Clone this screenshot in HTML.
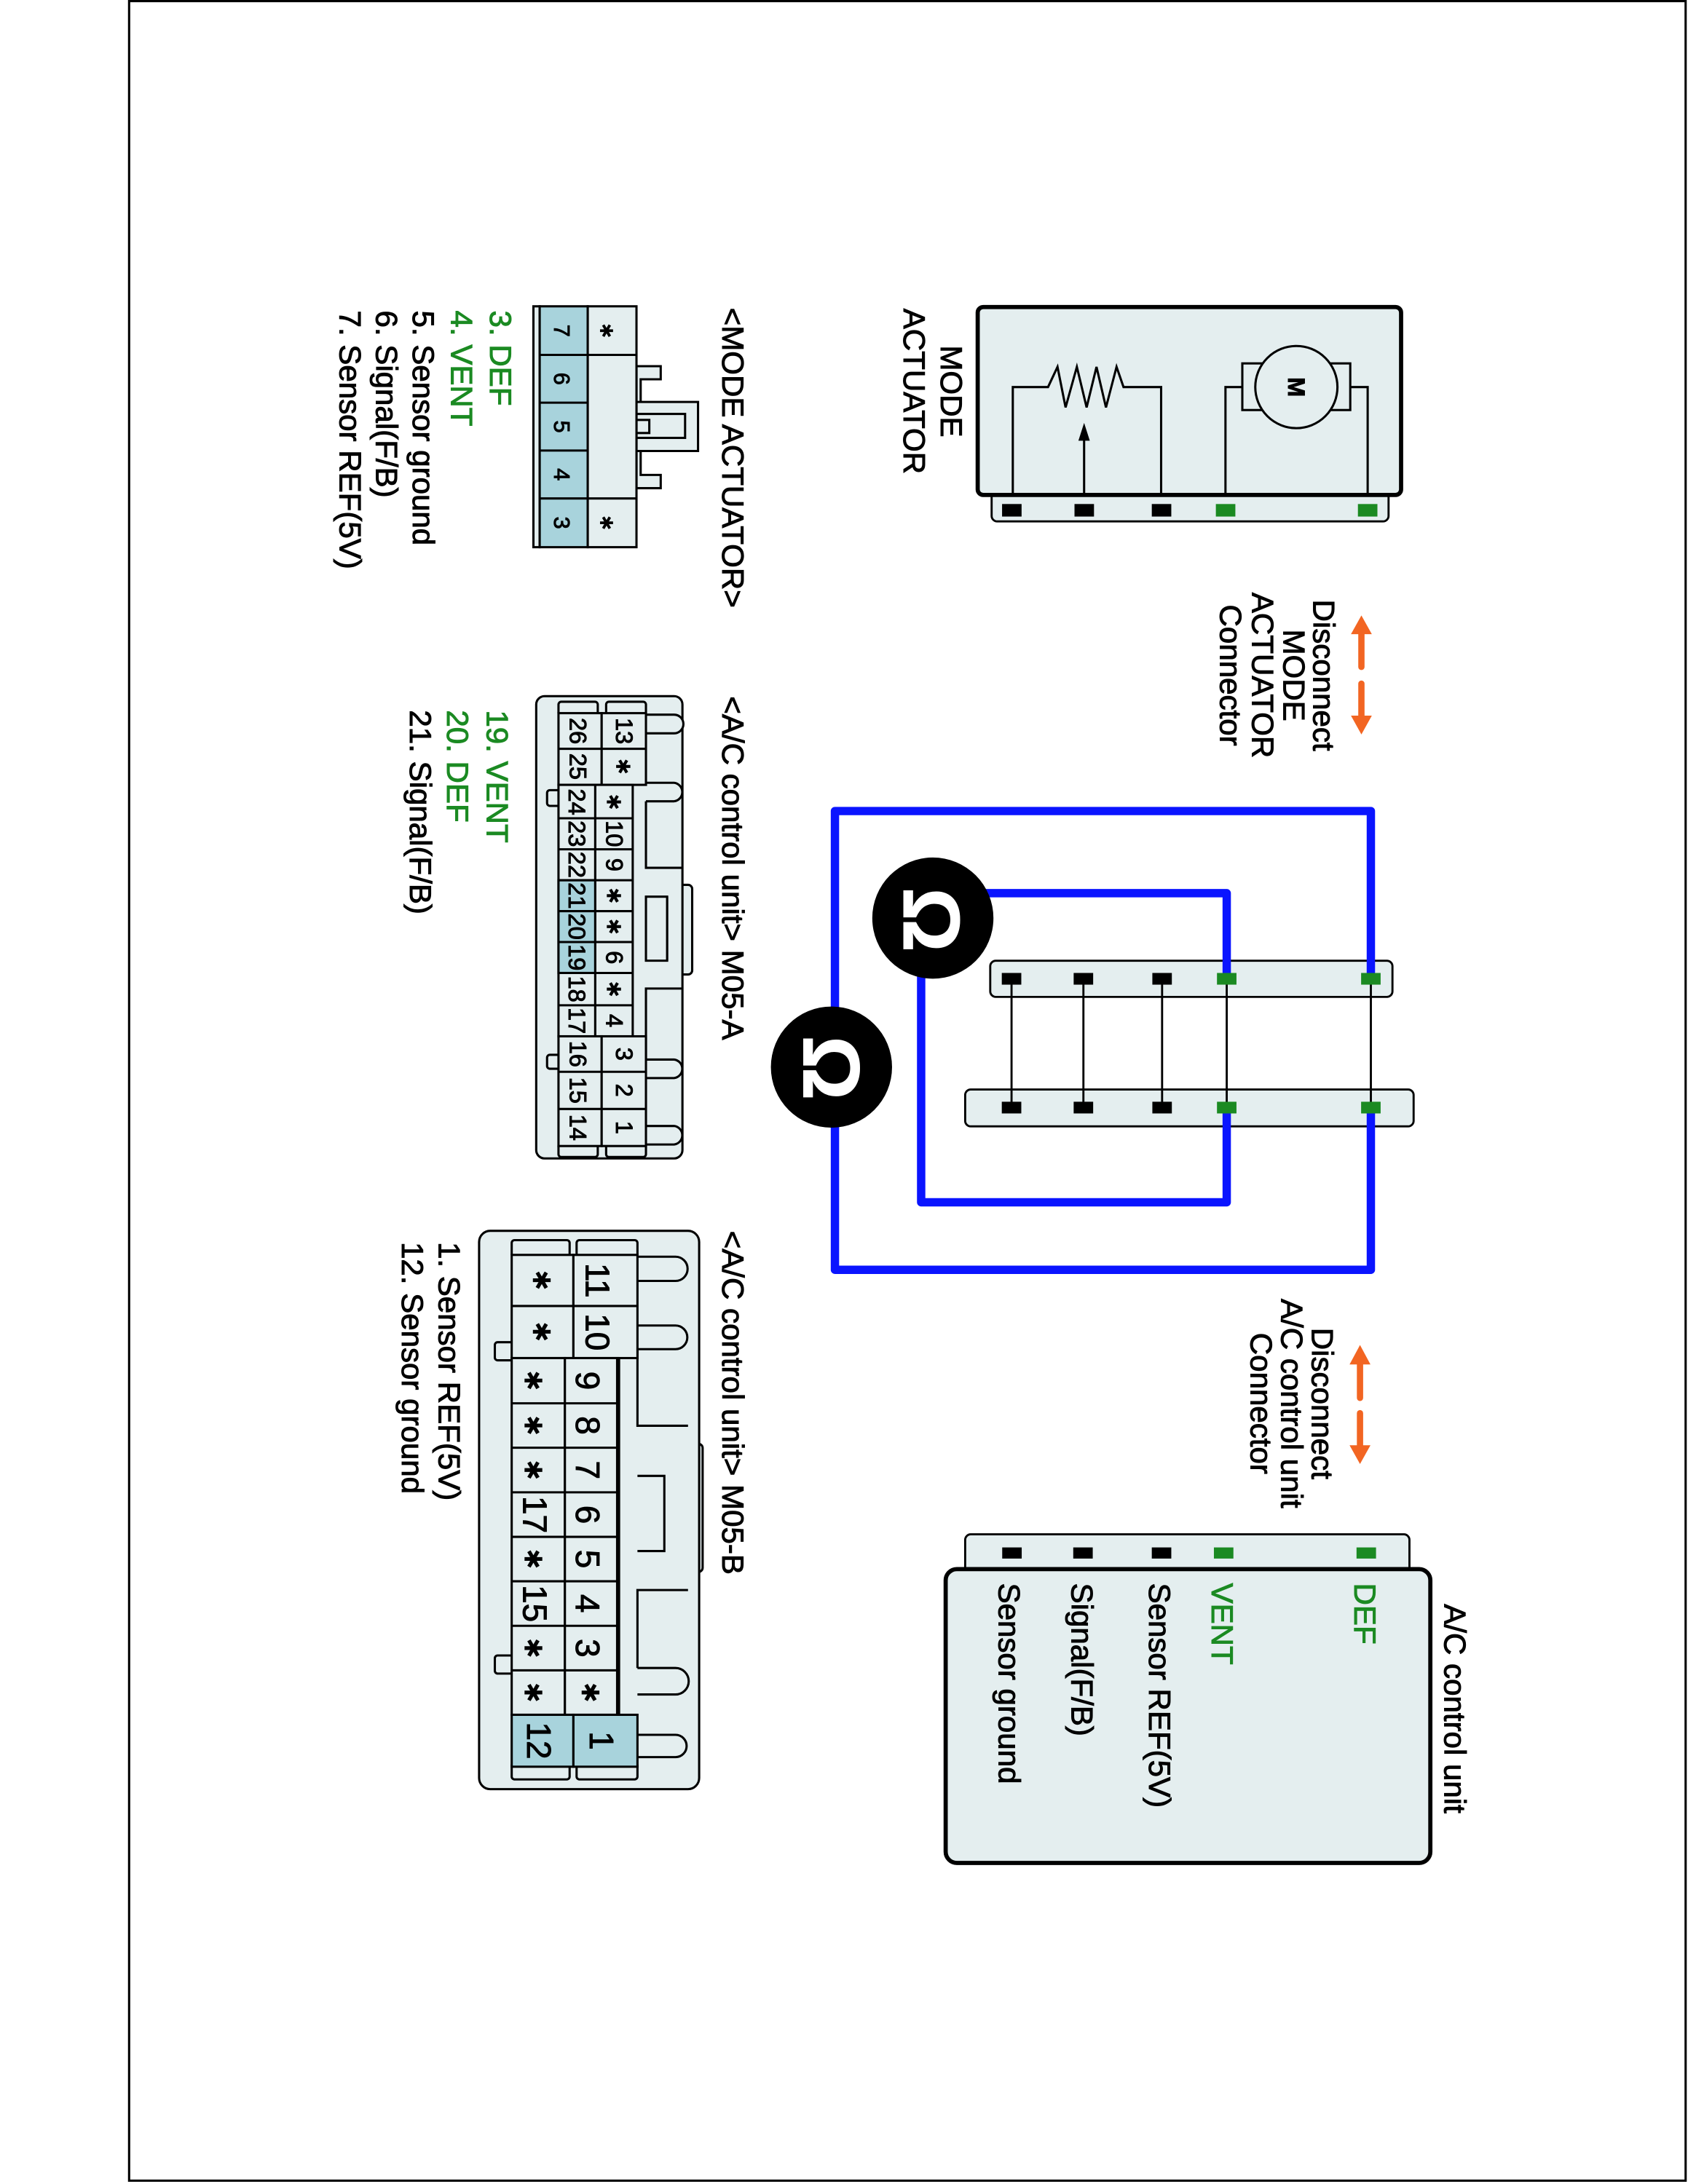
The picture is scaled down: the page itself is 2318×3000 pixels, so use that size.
<!DOCTYPE html>
<html><head><meta charset="utf-8"><style>
html,body{margin:0;padding:0;background:#fff;}
svg{display:block;}
text{font-family:"Liberation Sans",Arial,sans-serif;stroke:#000;stroke-width:0.5;}
text.g{fill:#1b8a22;stroke:#1b8a22;}
text.w{fill:#fff;stroke:#fff;}
</style></head><body>
<svg width="2318" height="3000" viewBox="0 0 1212 1568.6" xmlns="http://www.w3.org/2000/svg">
<defs>
<symbol id="st" viewBox="-10 -10 20 20" overflow="visible">
<g stroke="#000" stroke-width="3.6" stroke-linecap="butt">
<line x1="-8.5" y1="0" x2="8.5" y2="0"/><line x1="-4.3" y1="-7.4" x2="4.3" y2="7.4"/><line x1="-4.3" y1="7.4" x2="4.3" y2="-7.4"/>
</g></symbol>
</defs>
<rect x="0" y="0" width="1212" height="1568.6" fill="#fff"/>
<rect x="92.7" y="0.8" width="1117.6" height="1565.4" fill="none" stroke="#000" stroke-width="1.6"/>

<!-- MODE ACTUATOR component -->
<rect x="712" y="346" width="285" height="28.5" rx="4" fill="#e4eeef" stroke="#000" stroke-width="1.5"/>
<rect x="702" y="220.5" width="304" height="135" rx="4" fill="#e4eeef" stroke="#000" stroke-width="3"/>
<rect x="719.5" y="362" width="14" height="9" fill="#000"/>
<rect x="771.5" y="362" width="14" height="9" fill="#000"/>
<rect x="827" y="362" width="14" height="9" fill="#000"/>
<rect x="873" y="362" width="14" height="9" fill="#1b8a22"/>
<rect x="975" y="362" width="14" height="9" fill="#1b8a22"/>
<g fill="none" stroke="#000" stroke-width="1.6">
<polyline points="727.2,355 727.2,278 752.5,278 759.3,263.5 765.1,292.6 773.2,263.5 780.2,292.6 787.3,263.5 794.1,292.6 801.7,263.5 806.7,278 833.7,278 833.7,355"/>
<line x1="778.4" y1="355" x2="778.4" y2="314"/>
<polyline points="879.9,355 879.9,278 892,278"/>
<polyline points="969.5,278 982,278 982,355"/>
<rect x="892" y="261" width="77.5" height="33.5" fill="#e4eeef"/>
<circle cx="930.8" cy="278" r="29.5" fill="#e4eeef"/>
</g>
<polygon points="778.4,303.7 774.3,316.5 782.5,316.5" fill="#000"/>
<text transform="translate(930.8,278) rotate(90)" text-anchor="middle" dominant-baseline="central" font-size="17" font-weight="bold">M</text>
<g font-size="22">
<text transform="translate(675.5,281) rotate(90)" text-anchor="middle">MODE</text>
<text transform="translate(649,281) rotate(90)" text-anchor="middle">ACTUATOR</text>
<text transform="translate(943,485) rotate(90)" text-anchor="middle">Disconnect</text>
<text transform="translate(921.5,485) rotate(90)" text-anchor="middle">MODE</text>
<text transform="translate(899,485) rotate(90)" text-anchor="middle">ACTUATOR</text>
<text transform="translate(876,485) rotate(90)" text-anchor="middle">Connector</text>
<text transform="translate(942,1008) rotate(90)" text-anchor="middle">Disconnect</text>
<text transform="translate(920,1008) rotate(90)" text-anchor="middle">A/C control unit</text>
<text transform="translate(898,1008) rotate(90)" text-anchor="middle">Connector</text>
</g>
<!-- orange arrows -->
<g fill="#f26522" stroke="#f26522">
<line x1="977.5" y1="452" x2="977.5" y2="479" stroke-width="4.5" stroke-linecap="round"/>
<polygon points="977.5,442 970,455.5 985,455.5" stroke="none"/>
<line x1="977.5" y1="491" x2="977.5" y2="517" stroke-width="4.5" stroke-linecap="round"/>
<polygon points="977.5,527.5 970,514 985,514" stroke="none"/>
<line x1="976.5" y1="978" x2="976.5" y2="1004" stroke-width="4.5" stroke-linecap="round"/>
<polygon points="976.5,966 969,980 984,980" stroke="none"/>
<line x1="976.5" y1="1015" x2="976.5" y2="1041" stroke-width="4.5" stroke-linecap="round"/>
<polygon points="976.5,1051.5 969,1038 984,1038" stroke="none"/>
</g>

<!-- center connectors -->
<rect x="711" y="690" width="288.8" height="26" rx="4" fill="#e4eeef" stroke="#000" stroke-width="1.5"/>
<rect x="693" y="782.5" width="322" height="26.5" rx="4" fill="#e4eeef" stroke="#000" stroke-width="1.5"/>
<g stroke="#000" stroke-width="1.5">
<line x1="726.3" y1="703" x2="726.3" y2="796"/>
<line x1="777.9" y1="703" x2="777.9" y2="796"/>
<line x1="834.4" y1="703" x2="834.4" y2="796"/>
<line x1="880.8" y1="703" x2="880.8" y2="796"/>
<line x1="984.3" y1="703" x2="984.3" y2="796"/>
</g>
<g fill="none" stroke="#0a14ff" stroke-width="6" stroke-linejoin="round" stroke-linecap="round">
<polyline points="984.3,703 984.3,582.5 599.5,582.5 599.5,912 984.3,912 984.3,796"/>
<polyline points="880.8,703 880.8,641.5 690,641.5"/>
<polyline points="661.4,690 661.4,863.5 880.8,863.5 880.8,796"/>
</g>
<g>
<rect x="719.3" y="698.8" width="14" height="8.4" fill="#000"/>
<rect x="770.9" y="698.8" width="14" height="8.4" fill="#000"/>
<rect x="827.4" y="698.8" width="14" height="8.4" fill="#000"/>
<rect x="873.8" y="698.8" width="14" height="8.4" fill="#1b8a22"/>
<rect x="977.3" y="698.8" width="14" height="8.4" fill="#1b8a22"/>
<rect x="719.3" y="791.3" width="14" height="8.4" fill="#000"/>
<rect x="770.9" y="791.3" width="14" height="8.4" fill="#000"/>
<rect x="827.4" y="791.3" width="14" height="8.4" fill="#000"/>
<rect x="873.8" y="791.3" width="14" height="8.4" fill="#1b8a22"/>
<rect x="977.3" y="791.3" width="14" height="8.4" fill="#1b8a22"/>
</g>
<circle cx="669.8" cy="659.4" r="43.5" fill="#000"/>
<circle cx="597" cy="766.4" r="43.5" fill="#000"/>
<text class="w" transform="translate(649,660.6) rotate(90)" text-anchor="middle" font-size="58" font-weight="bold">Ω</text>
<text class="w" transform="translate(577,767) rotate(90)" text-anchor="middle" font-size="58" font-weight="bold">Ω</text>

<!-- A/C control unit box -->
<rect x="693" y="1102" width="319" height="30" rx="4" fill="#e4eeef" stroke="#000" stroke-width="1.5"/>
<rect x="679" y="1127" width="348" height="211" rx="8" fill="#e4eeef" stroke="#000" stroke-width="3"/>
<rect x="719.6" y="1111.4" width="14" height="8" fill="#000"/>
<rect x="770.6" y="1111.4" width="14" height="8" fill="#000"/>
<rect x="827" y="1111.4" width="14" height="8" fill="#000"/>
<rect x="871.6" y="1111.4" width="14" height="8" fill="#1b8a22"/>
<rect x="974" y="1111.4" width="14" height="8" fill="#1b8a22"/>
<g font-size="22">
<text class="g" transform="translate(972.5,1137) rotate(90)">DEF</text>
<text class="g" transform="translate(870,1137) rotate(90)">VENT</text>
<text transform="translate(825,1137) rotate(90)">Sensor REF(5V)</text>
<text transform="translate(769.5,1137) rotate(90)">Signal(F/B)</text>
<text transform="translate(717,1137) rotate(90)">Sensor ground</text>
<text transform="translate(1037,1152) rotate(90)">A/C control unit</text>
</g>

<!-- MODE ACTUATOR connector -->
<g stroke="#000" stroke-width="1.6">
<path d="M457,263 H474.4 V272.4 H460 V341.1 H474.4 V350.6 H457 Z" fill="#e4eeef"/>
<path d="M457,288.7 H501.2 V323.9 H457 Z" fill="#e4eeef"/>
<rect x="457" y="297.3" width="34.9" height="17.2" fill="#e4eeef"/>
<rect x="457" y="301.6" width="9.2" height="9.4" fill="#e4eeef"/>
<rect x="383" y="220" width="4.5" height="173" fill="#e4eeef"/>
<rect x="387.5" y="220" width="34.5" height="173" fill="#a8d3dc"/>
<rect x="422" y="220" width="35" height="173" fill="#e4eeef"/>
<line x1="387.5" y1="254.9" x2="457" y2="254.9"/>
<line x1="387.5" y1="289.2" x2="422" y2="289.2"/>
<line x1="387.5" y1="323.6" x2="422" y2="323.6"/>
<line x1="387.5" y1="358" x2="457" y2="358"/>
</g>
<g font-size="16" text-anchor="middle" dominant-baseline="central">
<text transform="translate(403,237.5) rotate(90)">7</text>
<text transform="translate(403,272) rotate(90)">6</text>
<text transform="translate(403,306.4) rotate(90)">5</text>
<text transform="translate(403,340.8) rotate(90)">4</text>
<text transform="translate(403,375.5) rotate(90)">3</text>
</g>
<use href="#st" x="430" y="232" width="11" height="11"/>
<use href="#st" x="430" y="370" width="11" height="11"/>
<g font-size="22">
<text transform="translate(518.6,221) rotate(90)">&lt;MODE ACTUATOR&gt;</text>
<text class="g" transform="translate(352,223) rotate(90)">3. DEF</text>
<text class="g" transform="translate(324,223) rotate(90)">4. VENT</text>
<text transform="translate(296.5,223) rotate(90)">5. Sensor ground</text>
<text transform="translate(270,223) rotate(90)">6. Signal(F/B)</text>
<text transform="translate(244,223) rotate(90)">7. Sensor REF(5V)</text>
</g>

<!-- M05-A connector -->
<g stroke="#000" stroke-width="1.6" fill="#e4eeef">
<rect x="486" y="635.5" width="11" height="64.4" rx="3"/>
<rect x="385" y="500" width="105" height="332" rx="6"/>
<path d="M463.8,513.3 H484 A6.7,6.7 0 0 1 484,526.7 H463.8"/>
<path d="M463.8,562.2 H484 A6.7,6.7 0 0 1 484,575.5 H463.8"/>
<path d="M463.8,761 H484 A6.7,6.7 0 0 1 484,774.3 H463.8"/>
<path d="M463.8,808.7 H484 A6.7,6.7 0 0 1 484,822 H463.8"/>
<path d="M463.8,575.5 V623.3 H489.8 M479,644 V690 M489.8,710 H463.8 V761" fill="none"/>
<path d="M463.8,644 H479 V690 H463.8 Z"/>
<rect x="392.8" y="567.5" width="10" height="11.3" rx="2"/>
<rect x="392.8" y="757.6" width="10" height="10" rx="2"/>
<rect x="401" y="504" width="28.2" height="10" rx="2"/>
<rect x="435.2" y="504" width="28.6" height="10" rx="2"/>
<rect x="401" y="821" width="28.2" height="10" rx="2"/>
<rect x="435.2" y="821" width="28.6" height="10" rx="2"/>
<rect x="401" y="512.2" width="31" height="51.5"/>
<rect x="432" y="512.2" width="31.8" height="51.5"/>
<line x1="401" y1="537.8" x2="463.8" y2="537.8"/>
<rect x="401" y="563.7" width="26.4" height="180.6"/>
<rect x="401" y="632.2" width="26.4" height="66.6" fill="#a8d3dc"/>
<rect x="427.4" y="563.7" width="26.9" height="180.6"/>
<path d="M401,587.7 H454.3 M401,610 H454.3 M401,632.2 H454.3 M401,654.4 H454.3 M401,676.6 H454.3 M401,698.8 H454.3 M401,722 H454.3" fill="none"/>
<rect x="401" y="744.3" width="31" height="78.8"/>
<rect x="432" y="744.3" width="31.8" height="78.8"/>
<path d="M401,769.8 H463.8 M401,796.5 H463.8" fill="none"/>
</g>
<g font-size="17" text-anchor="middle" dominant-baseline="central">
<text transform="translate(415,525) rotate(90)">26</text>
<text transform="translate(415,550.5) rotate(90)">25</text>
<text transform="translate(414,576) rotate(90)">24</text>
<text transform="translate(414,598.8) rotate(90)">23</text>
<text transform="translate(414,621.1) rotate(90)">22</text>
<text transform="translate(414,643.3) rotate(90)">21</text>
<text transform="translate(414,665.5) rotate(90)">20</text>
<text transform="translate(414,687.7) rotate(90)">19</text>
<text transform="translate(414,710.4) rotate(90)">18</text>
<text transform="translate(414,733.1) rotate(90)">17</text>
<text transform="translate(415,757) rotate(90)">16</text>
<text transform="translate(415,783.1) rotate(90)">15</text>
<text transform="translate(415,809.8) rotate(90)">14</text>
<text transform="translate(448,525) rotate(90)">13</text>
<text transform="translate(441,598.8) rotate(90)">10</text>
<text transform="translate(441,621.1) rotate(90)">9</text>
<text transform="translate(441,687.7) rotate(90)">6</text>
<text transform="translate(441,733.1) rotate(90)">4</text>
<text transform="translate(448,757) rotate(90)">3</text>
<text transform="translate(448,783.1) rotate(90)">2</text>
<text transform="translate(448,809.8) rotate(90)">1</text>
</g>
<use href="#st" x="441.5" y="544.5" width="12" height="12"/>
<use href="#st" x="434.8" y="570" width="12" height="12"/>
<use href="#st" x="434.8" y="637.3" width="12" height="12"/>
<use href="#st" x="434.8" y="659.5" width="12" height="12"/>
<use href="#st" x="434.8" y="704.4" width="12" height="12"/>
<g font-size="22">
<text transform="translate(518.6,500) rotate(90)">&lt;A/C control unit&gt; M05-A</text>
<text class="g" transform="translate(349.5,510) rotate(90)">19. VENT</text>
<text class="g" transform="translate(321,510) rotate(90)">20. DEF</text>
<text transform="translate(294.5,510) rotate(90)">21. Signal(F/B)</text>
</g>

<!-- M05-B connector -->
<g stroke="#000" stroke-width="1.6" fill="#e4eeef">
<rect x="493" y="1037" width="11.5" height="92" rx="3"/>
<rect x="344" y="884" width="158" height="401" rx="8"/>
<path d="M457.7,902.6 H485 A8.7,8.7 0 0 1 485,920 H457.7"/>
<path d="M457.7,952 H485 A8.5,8.5 0 0 1 485,969 H457.7"/>
<path d="M457.7,1198 H485 A9.5,9.5 0 0 1 485,1217 H457.7"/>
<path d="M457.7,1246 H485 A8,8 0 0 1 485,1262 H457.7"/>
<path d="M457.7,969 V1024 H494 M457.7,1060 H477 V1114 H457.7 M494,1142 H457.7 V1198" fill="none"/>
<rect x="355.3" y="964" width="13" height="13" rx="2"/>
<rect x="355.3" y="1189" width="13" height="13" rx="2"/>
<rect x="367.4" y="890.7" width="41.6" height="12" rx="2"/>
<rect x="414" y="890.7" width="43.7" height="12" rx="2"/>
<rect x="367.4" y="1266" width="41.6" height="12" rx="2"/>
<rect x="414" y="1266" width="43.7" height="12" rx="2"/>
<rect x="367.4" y="901.3" width="44.3" height="74.1"/>
<rect x="411.7" y="901.3" width="46" height="74.1"/>
<line x1="367.4" y1="938" x2="457.7" y2="938"/>
<rect x="367.4" y="975.4" width="38.2" height="256.2"/>
<rect x="405.6" y="975.4" width="38.2" height="256.2"/>
<line x1="443.8" y1="975.4" x2="443.8" y2="1231.6" stroke-width="3"/>
<path d="M367.4,1007.9 H443.8 M367.4,1039.8 H443.8 M367.4,1071.8 H443.8 M367.4,1103.8 H443.8 M367.4,1135.7 H443.8 M367.4,1167.7 H443.8 M367.4,1199.7 H443.8" fill="none"/>
<rect x="367.4" y="1231.6" width="44.3" height="37.3" fill="#a8d3dc"/>
<rect x="411.7" y="1231.6" width="46" height="37.3" fill="#a8d3dc"/>
</g>
<g font-size="24" text-anchor="middle" dominant-baseline="central">
<text transform="translate(429,919.6) rotate(90)">11</text>
<text transform="translate(429,956.7) rotate(90)">10</text>
<text transform="translate(422,991.6) rotate(90)">9</text>
<text transform="translate(422,1023.8) rotate(90)">8</text>
<text transform="translate(422,1055.8) rotate(90)">7</text>
<text transform="translate(422,1087.8) rotate(90)">6</text>
<text transform="translate(422,1119.7) rotate(90)">5</text>
<text transform="translate(422,1151.7) rotate(90)">4</text>
<text transform="translate(422,1183.7) rotate(90)">3</text>
<text transform="translate(384,1087.8) rotate(90)">17</text>
<text transform="translate(384,1151.7) rotate(90)">15</text>
<text transform="translate(387,1250.2) rotate(90)">12</text>
<text transform="translate(432,1250.2) rotate(90)">1</text>
</g>
<use href="#st" x="381.5" y="912" width="15" height="15"/>
<use href="#st" x="381.5" y="949" width="15" height="15"/>
<use href="#st" x="375.5" y="984" width="15" height="15"/>
<use href="#st" x="375.5" y="1016.3" width="15" height="15"/>
<use href="#st" x="375.5" y="1048.3" width="15" height="15"/>
<use href="#st" x="375.5" y="1112.2" width="15" height="15"/>
<use href="#st" x="375.5" y="1176.2" width="15" height="15"/>
<use href="#st" x="375.5" y="1208.1" width="15" height="15"/>
<use href="#st" x="416.5" y="1208.1" width="15" height="15"/>
<g font-size="22">
<text transform="translate(518.6,884) rotate(90)">&lt;A/C control unit&gt; M05-B</text>
<text transform="translate(315,892) rotate(90)">1. Sensor REF(5V)</text>
<text transform="translate(288.5,892) rotate(90)">12. Sensor ground</text>
</g>
</svg>
</body></html>
